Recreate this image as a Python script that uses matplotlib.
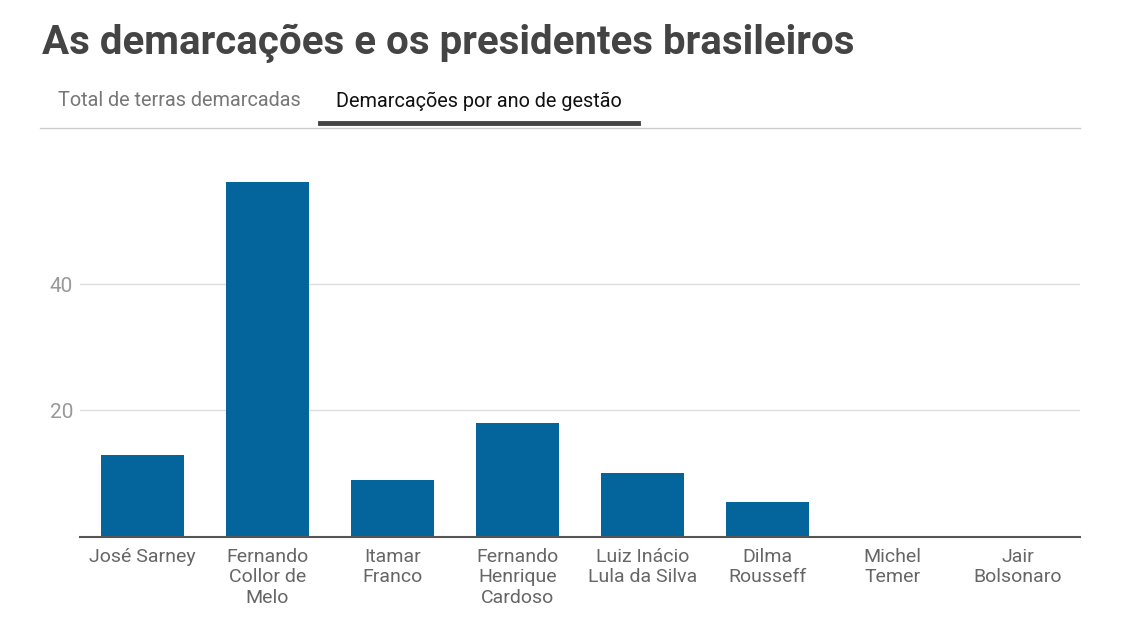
import numpy as np
import matplotlib.pyplot as plt
from matplotlib.lines import Line2D

presidentes = ["José Sarney", "Fernando\nCollor de\nMelo", "Itamar\nFranco",
               "Fernando\nHenrique\nCardoso", "Luiz Inácio\nLula da Silva",
               "Dilma\nRousseff", "Michel\nTemer", "Jair\nBolsonaro"]
demarcacoes_ano = [12.9, 56.2, 9.0, 18.0, 10.1, 5.4, 0, 0]
yticks = [20, 40]

plt.rcParams['font.family'] = ['Roboto', 'DejaVu Sans']

fig = plt.figure(figsize=(11.4, 6.35), dpi=100)
ax = fig.add_axes([80/1140, 98.5/635, 1000/1140, 360/635])

x = np.arange(len(presidentes))
ax.bar(x, demarcacoes_ano, width=0.66, color="#03659b", zorder=2)
ax.set_xlim(-0.5, len(presidentes) - 0.5)
ax.set_ylim(0, 57.1)

ax.set_yticks(yticks)
ax.set_yticklabels([str(t) for t in yticks], color="#999999", fontsize=15)
ax.set_xticks(x)
ax.set_xticklabels(presidentes, color="#666666", fontsize=14, linespacing=1.2)
ax.tick_params(axis="both", length=0)
ax.tick_params(axis="y", pad=5)
ax.tick_params(axis="x", pad=8)
ax.grid(axis="y", color="#dddddd", linewidth=1, zorder=0)
for s in ["top", "right", "left"]:
    ax.spines[s].set_visible(False)
ax.spines["bottom"].set_color("#555555")
ax.spines["bottom"].set_linewidth(1.5)
ax.spines["bottom"].set_zorder(3)

fig.text(42/1140, 1 - 43/635, "As demarcações e os presidentes brasileiros",
         fontsize=29, fontweight="bold", color="#444444", va="center", ha="left")
fig.text(58/1140, 1 - 101/635, "Total de terras demarcadas",
         fontsize=14.3, color="#777777", va="center", ha="left")
fig.text(336/1140, 1 - 101/635, "Demarcações por ano de gestão",
         fontsize=14.3, color="#111111", va="center", ha="left")
fig.add_artist(Line2D([40/1140, 1080/1140], [1 - 128/635, 1 - 128/635],
                      color="#cccccc", linewidth=1, transform=fig.transFigure))
fig.add_artist(Line2D([320/1140, 638/1140], [1 - 123/635, 1 - 123/635],
                      color="#444444", linewidth=3.5, transform=fig.transFigure))

plt.savefig("out.png", dpi=100)
